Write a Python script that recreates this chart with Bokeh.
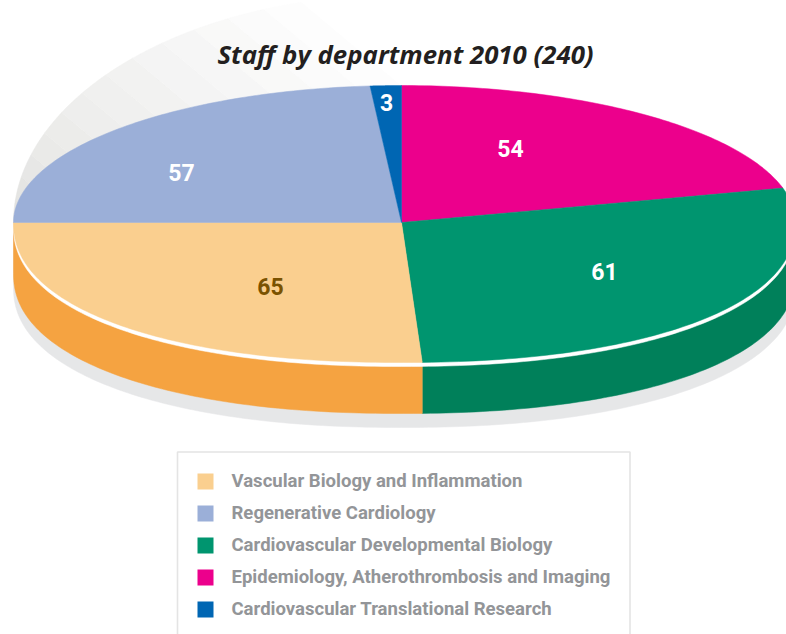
import numpy as np
from bokeh.plotting import figure
from bokeh.models import Range1d, ColumnDataSource
from bokeh.core.properties import value
from bokeh.embed import file_html
from bokeh.resources import INLINE

# ---- data (clockwise from the top of the pie) ----
departments = ["Epidemiology, Atherothrombosis and Imaging",
               "Cardiovascular Developmental Biology",
               "Vascular Biology and Inflammation",
               "Regenerative Cardiology",
               "Cardiovascular Translational Research"]
staff = [54, 61, 65, 57, 3]
# share of the disc each slice actually occupies in the picture, in staff units
drawn_staff = [50.3, 68.2, 61.5, 56.9, 3.1]
title = "Staff by department 2010 (240)"
legend_order = [2, 3, 1, 0, 4]

# ---- styles ----
top_colors = ["#EC008C", "#00956F", "#FACF8F", "#9BAFD8", "#0066B3"]
wall_colors = {1: "#00805A", 2: "#F5A341"}
label_colors = ["#FFFFFF", "#FFFFFF", "#7A5200", "#FFFFFF", "#FFFFFF"]
label_pos = [(510, 148), (604, 271), (270, 286), (181, 172), (386, 102)]

CX, CY = 401, 222
RX_L, RX_R = 388, 394
RY_T, RY_B = 137, 140
WALL, SHADOW, GAP = 51, 14, 4


def rim(deg, dy=0.0, ry_top=RY_T, ry_bot=RY_B):
    t = np.radians(np.asarray(deg, dtype=float))
    s, c = np.sin(t), np.cos(t)
    lower = c < 0
    e = np.where(lower, 2 / 2.2, 1.0)
    x = CX + np.where(s >= 0, RX_R, RX_L) * np.sign(s) * np.abs(s) ** e
    y = CY + dy - np.where(lower, ry_bot, ry_top) * np.sign(c) * np.abs(c) ** e
    return x, y


edges = 360 * np.cumsum([0] + drawn_staff) / sum(drawn_staff)

p = figure(width=786, height=634, x_range=Range1d(0, 786), y_range=Range1d(634, 0),
           output_backend="svg", toolbar_location=None, min_border=0,
           background_fill_color="white", border_fill_color="white")
p.axis.visible = False
p.grid.visible = False
p.outline_line_color = None


def fill(xs, ys, color):
    p.patch(list(xs), list(ys), fill_color=color, line_color=color, line_width=0.5)


# fan of grey bands behind the disc
band_edges = np.linspace(270, 345, 14)
grey0, grey1 = np.array([0xE3, 0xE3, 0xE1]), np.array([0xFD, 0xFD, 0xFD])
for i in range(len(band_edges) - 1):
    a = np.linspace(band_edges[i], band_edges[i + 1], 12)
    t = np.radians(a)
    ox = CX + RX_L * np.sin(t)
    oy = CY - 228 * np.cos(t)
    ix, iy = ox + 170, oy + 142
    g = grey0 + (grey1 - grey0) * i / (len(band_edges) - 2)
    col = "#%02X%02X%02X" % tuple(int(round(v)) for v in g)
    fill(np.r_[ox, ix[::-1]], np.r_[oy, iy[::-1]], col)

# cast shadow
arc = np.linspace(90, 270, 181)
ax, ay = rim(arc)
fill(np.r_[ax, ax[::-1]], np.r_[ay, ay[::-1] + WALL + SHADOW], "#E6E7E8")

# side walls of the slices that face the viewer
for i, color in wall_colors.items():
    a = np.linspace(max(edges[i], 90), min(edges[i + 1], 270), 90)
    wx, wy = rim(a)
    fill(np.r_[wx, wx[::-1]], np.r_[wy, wy[::-1] + WALL], color)

# white rim between the top face and the walls
full = np.linspace(0, 360, 361)
rx_, ry_ = rim(full, dy=GAP)
fill(rx_, ry_, "#FFFFFF")

# top faces
for i, color in enumerate(top_colors):
    a = np.linspace(edges[i], edges[i + 1], 90)
    fx, fy = rim(a)
    fill(np.r_[CX, fx], np.r_[CY, fy], color)

# value labels
p.text([q[0] for q in label_pos], [q[1] for q in label_pos], text=[str(v) for v in staff],
       text_color=label_colors, text_font=value("Roboto"), text_font_style="bold",
       text_font_size="23px", text_align="center", text_baseline="middle")

# title
p.text([405], [53], text=[title], text_color="#231F20", text_font=value("Open Sans"),
       text_font_style="bold italic", text_font_size="25.8px",
       text_align="center", text_baseline="middle")

# legend frame
p.line([177, 177, 629.5, 629.5], [640, 451.5, 451.5, 640], line_color="#E4E4E4", line_width=1.6)

ly = [481 + 32 * k for k in range(5)]
src = ColumnDataSource(dict(x=[205] * 5, y=ly,
                            c=[top_colors[i] for i in legend_order],
                            t=[departments[i] for i in legend_order]))
p.scatter("x", "y", source=src, marker="square", size=16, fill_color="c", line_color=None)
p.text([231] * 5, [v - 1 for v in ly], text=src.data["t"], text_color="#939598", text_font=value("Roboto"),
       text_font_style="bold", text_font_size="18.55px", text_align="left", text_baseline="middle")

open("out.html", "w").write(file_html(p, INLINE))
